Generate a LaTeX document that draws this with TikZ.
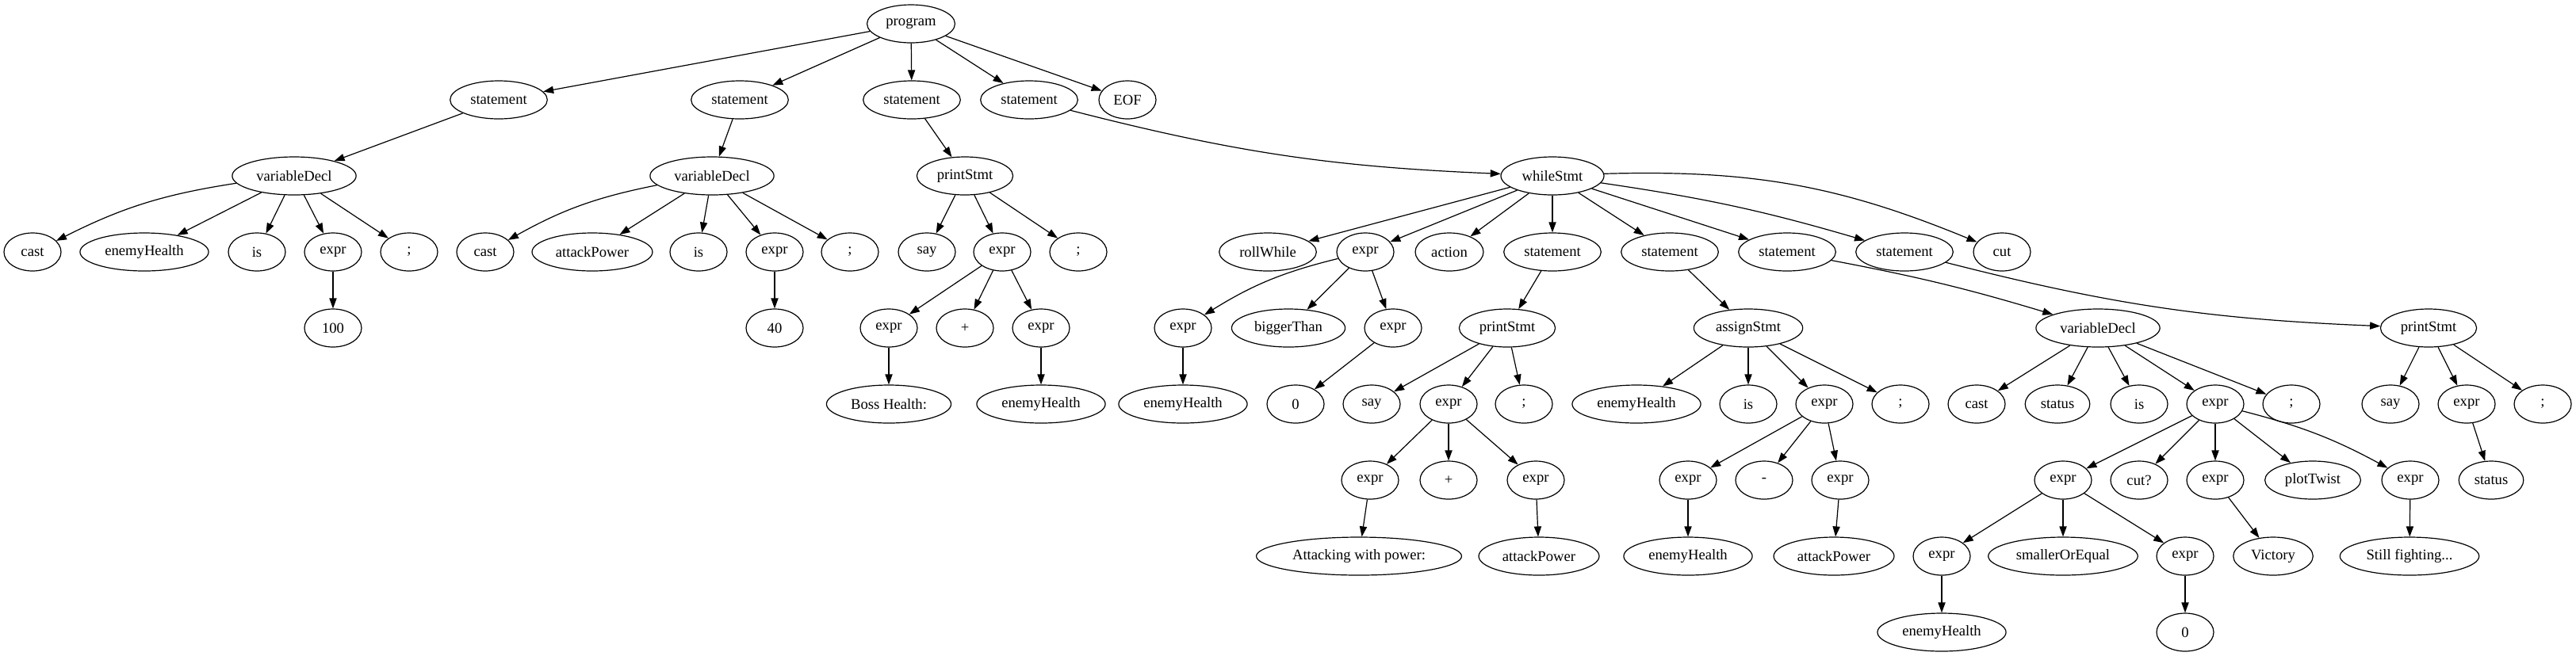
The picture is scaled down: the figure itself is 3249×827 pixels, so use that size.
\documentclass[tikz,border=0pt]{standalone}
\usepackage{fontspec}
\setmainfont{Liberation Serif}
\usetikzlibrary{shapes.geometric,arrows.meta}

\begin{document}
\begin{tikzpicture}[x=0.5pt,y=-0.5pt,
    tn/.style={draw, ellipse, line width=0.6pt, minimum width=36pt, minimum height=24pt,
      inner xsep=3.8pt, inner ysep=2pt, font=\fontsize{9.33}{11}\selectfont},
    link/.style={->, line width=0.6pt},
    >={Triangle[length=6.5pt,width=4.6pt]}]
  \useasboundingbox (0,0) rectangle (3249,827);

  % root
  \node[tn] (prog) at (1149,30) {program};

  % statements
  \node[tn] (st1) at (629,126) {statement};
  \node[tn] (st2) at (933,126) {statement};
  \node[tn] (st3) at (1150,126) {statement};
  \node[tn] (st4) at (1298,126) {statement};
  \node[tn] (eof) at (1422,126) {EOF};

  % rank 2
  \node[tn] (vdA) at (371,222) {variableDecl};
  \node[tn] (vdB) at (898,222) {variableDecl};
  \node[tn] (psA) at (1217,222) {printStmt};
  \node[tn] (wh) at (1958,222) {whileStmt};

  % rank 3
  \node[tn] (castA) at (41,318) {cast};
  \node[tn] (ehA) at (182,318) {enemyHealth};
  \node[tn] (isA) at (324,318) {is};
  \node[tn] (exA) at (420,318) {expr};
  \node[tn] (scA) at (516,318) {;};
  \node[tn] (castB) at (612,318) {cast};
  \node[tn] (apA) at (747,318) {attackPower};
  \node[tn] (isB) at (881,318) {is};
  \node[tn] (exB) at (977,318) {expr};
  \node[tn] (scB) at (1072,318) {;};
  \node[tn] (sayA) at (1169,318) {say};
  \node[tn] (exC) at (1264,318) {expr};
  \node[tn] (scC) at (1360,318) {;};
  \node[tn] (roll) at (1599,318) {rollWhile};
  \node[tn] (exW) at (1722,318) {expr};
  \node[tn] (act) at (1828,318) {action};
  \node[tn] (stW1) at (1958,318) {statement};
  \node[tn] (stW2) at (2106,318) {statement};
  \node[tn] (stW3) at (2254,318) {statement};
  \node[tn] (stW4) at (2402,318) {statement};
  \node[tn] (cutW) at (2525,318) {cut};

  % rank 4
  \node[tn] (numA) at (420,414) {100};
  \node[tn] (numB) at (977,414) {40};
  \node[tn] (exC1) at (1121,414) {expr};
  \node[tn] (plusA) at (1217,414) {+};
  \node[tn] (exC2) at (1313,414) {expr};
  \node[tn] (exW1) at (1492,414) {expr};
  \node[tn] (bigger) at (1625,414) {biggerThan};
  \node[tn] (exW2) at (1757,414) {expr};
  \node[tn] (psB) at (1901,414) {printStmt};
  \node[tn] (asg) at (2205,414) {assignStmt};
  \node[tn] (vdC) at (2646,414) {variableDecl};
  \node[tn] (psC) at (3063,414) {printStmt};

  % rank 5
  \node[tn] (boss) at (1121,510) {Boss Health:};
  \node[tn] (ehB) at (1313,510) {enemyHealth};
  \node[tn] (ehC) at (1492,510) {enemyHealth};
  \node[tn] (zeroA) at (1634,510) {0};
  \node[tn] (sayB) at (1730,510) {say};
  \node[tn] (exD) at (1827,510) {expr};
  \node[tn] (scD) at (1922,510) {;};
  \node[tn] (ehD) at (2064,510) {enemyHealth};
  \node[tn] (isC) at (2205,510) {is};
  \node[tn] (exE) at (2301,510) {expr};
  \node[tn] (scE) at (2397,510) {;};
  \node[tn] (castC) at (2493,510) {cast};
  \node[tn] (statA) at (2595,510) {status};
  \node[tn] (isD) at (2698,510) {is};
  \node[tn] (exF) at (2794,510) {expr};
  \node[tn] (scF) at (2890,510) {;};
  \node[tn] (sayC) at (3015,510) {say};
  \node[tn] (exG) at (3111,510) {expr};
  \node[tn] (scG) at (3207,510) {;};

  % rank 6
  \node[tn] (exD1) at (1728,606) {expr};
  \node[tn] (plusB) at (1827,606) {+};
  \node[tn] (exD2) at (1937,606) {expr};
  \node[tn] (exE1) at (2129,606) {expr};
  \node[tn] (minus) at (2225,606) {-};
  \node[tn] (exE2) at (2321,606) {expr};
  \node[tn] (exF1) at (2602,606) {expr};
  \node[tn] (cutq) at (2698,606) {cut?};
  \node[tn] (exF2) at (2794,606) {expr};
  \node[tn] (plot) at (2917,606) {plotTwist};
  \node[tn] (exF3) at (3040,606) {expr};
  \node[tn] (statB) at (3142,606) {status};

  % rank 7
  \node[tn] (atk) at (1714,702) {Attacking with power:};
  \node[tn] (apB) at (1941,702) {attackPower};
  \node[tn] (ehE) at (2129,702) {enemyHealth};
  \node[tn] (apC) at (2313,702) {attackPower};
  \node[tn] (exH1) at (2449,702) {expr};
  \node[tn] (smaller) at (2602,702) {smallerOrEqual};
  \node[tn] (exH2) at (2756,702) {expr};
  \node[tn] (vict) at (2867,702) {Victory};
  \node[tn] (still) at (3039,702) {Still fighting...};

  % rank 8
  \node[tn] (ehF) at (2449,798) {enemyHealth};
  \node[tn] (zeroB) at (2756,798) {0};

  % straight edges
  \foreach \a/\b in {prog/st1, prog/st2, prog/st3, prog/st4, prog/eof,
      st1/vdA, st2/vdB, st3/psA,
      vdA/ehA, vdA/isA, vdA/exA, vdA/scA, exA/numA,
      vdB/apA, vdB/isB, vdB/exB, vdB/scB, exB/numB,
      psA/sayA, psA/exC, psA/scC, exC/exC1, exC/plusA, exC/exC2, exC1/boss, exC2/ehB,
      wh/roll, wh/exW, wh/act, wh/stW1, wh/stW2, wh/stW3,
      exW/bigger, exW/exW2, exW1/ehC, exW2/zeroA,
      stW1/psB, psB/sayB, psB/exD, psB/scD, exD/exD1, exD/plusB, exD/exD2, exD1/atk, exD2/apB,
      stW2/asg, asg/ehD, asg/isC, asg/exE, asg/scE, exE/exE1, exE/minus, exE/exE2, exE1/ehE, exE2/apC,
      vdC/castC, vdC/statA, vdC/isD, vdC/exF, vdC/scF,
      exF/exF1, exF/cutq, exF/exF2, exF/plot, exF1/exH1, exF1/smaller, exF1/exH2,
      exH1/ehF, exH2/zeroB, exF2/vict, exF3/still,
      psC/sayC, psC/exG, psC/scG, exG/statB}
    \draw[link] (\a) -- (\b);

  % curved edges
  \draw[link] (vdA) to[bend right=9] (castA);
  \draw[link] (vdB) to[bend right=9] (castB);
  \draw[link] (st4) to[bend right=6] (wh);
  \draw[link] (wh) to[bend left=4] (stW4);
  \draw[link] (wh) to[bend left=12] (cutW);
  \draw[link] (exW) to[bend right=9] (exW1);
  \draw[link] (stW3) to[bend left=3] (vdC);
  \draw[link] (stW4) to[bend right=6] (psC);
  \draw[link] (exF) to[bend left=7] (exF3);
\end{tikzpicture}
\end{document}
